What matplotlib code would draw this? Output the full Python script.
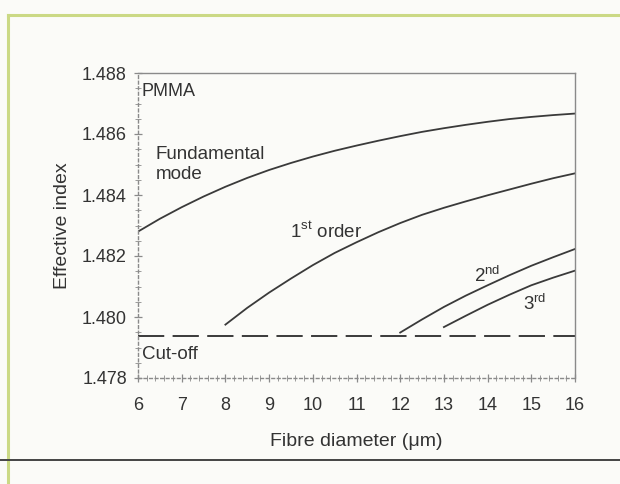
import numpy as np
import matplotlib
matplotlib.use('Agg')
import matplotlib.pyplot as plt
from matplotlib.lines import Line2D
from matplotlib.ticker import MultipleLocator

plt.rcParams['font.family'] = ['Liberation Sans', 'DejaVu Sans']
plt.rcParams['mathtext.fontset'] = 'custom'
plt.rcParams['mathtext.rm'] = 'Liberation Sans'

# values
diam_fund = [6.0, 6.5, 7.0, 7.5, 8.0, 8.5, 9.0, 9.5, 10.0, 10.5, 11.0,
             11.5, 12.0, 12.5, 13.0, 13.5, 14.0, 14.5, 15.0, 15.5, 16.0]
n_fund = [1.48280, 1.48322, 1.48360, 1.48395, 1.48427, 1.48456, 1.48482,
          1.48505, 1.48526, 1.48545, 1.48562, 1.48578, 1.48593, 1.48607,
          1.48619, 1.48630, 1.48640, 1.48649, 1.48656, 1.48662, 1.48667]

diam_1st = [8.0, 8.5, 9.0, 9.5, 10.0, 10.5, 11.0, 11.5, 12.0, 12.5, 13.0,
            13.5, 14.0, 14.5, 15.0, 15.5, 16.0]
n_1st = [1.47975, 1.48030, 1.48080, 1.48126, 1.48170, 1.48210, 1.48245,
         1.48278, 1.48308, 1.48335, 1.48358, 1.48379, 1.48399, 1.48418,
         1.48437, 1.48455, 1.48471]

diam_2nd = [12.0, 12.5, 13.0, 13.5, 14.0, 14.5, 15.0, 15.5, 16.0]
n_2nd = [1.47949, 1.47992, 1.48033, 1.48070, 1.48104, 1.48137, 1.48168,
         1.48196, 1.48223]

diam_3rd = [13.0, 13.5, 14.0, 14.5, 15.0, 15.5, 16.0]
n_3rd = [1.47967, 1.48004, 1.48040, 1.48073, 1.48104, 1.48129, 1.48152]

cutoff = 1.47937

xticks = list(range(6, 17))
yticks = [1.478, 1.480, 1.482, 1.484, 1.486, 1.488]

fig = plt.figure(figsize=(6.2, 4.84), dpi=100)
fig.patch.set_facecolor('#fbfbf8')

# scan frame lines
fig.add_artist(Line2D([8/620, 8/620], [0, 1 - 15/484], transform=fig.transFigure,
                      color='#cbd985', lw=2.2))
fig.add_artist(Line2D([8/620, 1], [1 - 15/484, 1 - 15/484], transform=fig.transFigure,
                      color='#cbd985', lw=2.2))
fig.add_artist(Line2D([0, 1], [1 - 460/484, 1 - 460/484], transform=fig.transFigure,
                      color='#444444', lw=1.4))

ax = fig.add_axes([138/620, 1 - 378/484, 437/620, 305/484])
ax.set_facecolor('#fbfbf8')

lc = '#3a3a3a'
ax.plot(diam_fund, n_fund, color=lc, lw=1.3)
ax.plot(diam_1st, n_1st, color=lc, lw=1.3)
ax.plot(diam_2nd, n_2nd, color=lc, lw=1.3)
ax.plot(diam_3rd, n_3rd, color=lc, lw=1.3)
cl, = ax.plot([6, 16], [cutoff, cutoff], color=lc, lw=1.4)
cl.set_dashes((13.5, 4.3))

ax.set_xlim(6, 16)
ax.set_ylim(1.478, 1.488)
ax.set_xticks(xticks)
ax.set_yticks(yticks)
ax.set_yticklabels(['%.3f' % v for v in yticks])
ax.xaxis.set_minor_locator(MultipleLocator(0.2))
ax.yaxis.set_minor_locator(MultipleLocator(0.0005))

for s in ['top', 'right']:
    ax.spines[s].set_color('#8a8a8a')
    ax.spines[s].set_linewidth(1.0)
for s in ['left', 'bottom']:
    ax.spines[s].set_color('#8a8a8a')
    ax.spines[s].set_linewidth(1.0)
    ax.spines[s].set_linestyle((0, (2, 2)))

ax.tick_params(axis='x', which='major', pad=11)
ax.tick_params(axis='both', which='major', direction='inout', length=6, width=0.9,
               color='#8a8a8a', labelsize=13, labelcolor='#333333')
ax.tick_params(axis='y', which='major', pad=5)
ax.tick_params(axis='both', which='minor', direction='inout', length=4, width=0.7,
               color='#9a9a9a')

ax.set_xlabel('Fibre diameter (\u03bcm)', fontsize=14, color='#333333', labelpad=13)
ax.set_ylabel('Effective index', fontsize=14, color='#333333', labelpad=8)

tc = '#333333'
ax.text(6.08, 1.4874, 'PMMA', fontsize=13, color=tc, va='center')
ax.text(6.4, 1.4850, 'Fundamental\nmode', fontsize=13.5, color=tc, va='center',
        linespacing=1.25)
ax.text(9.48, 1.4828, r'1$^{\rm st}$ order', fontsize=13.5, color=tc, va='center')
ax.text(13.7, 1.48135, r'2$^{\rm nd}$', fontsize=13.5, color=tc, va='center')
ax.text(14.8, 1.48045, r'3$^{\rm rd}$', fontsize=13.5, color=tc, va='center')
ax.text(6.1, 1.47878, 'Cut-off', fontsize=13.5, color=tc, va='center')

fig.savefig('out.png', dpi=100, facecolor=fig.get_facecolor())
